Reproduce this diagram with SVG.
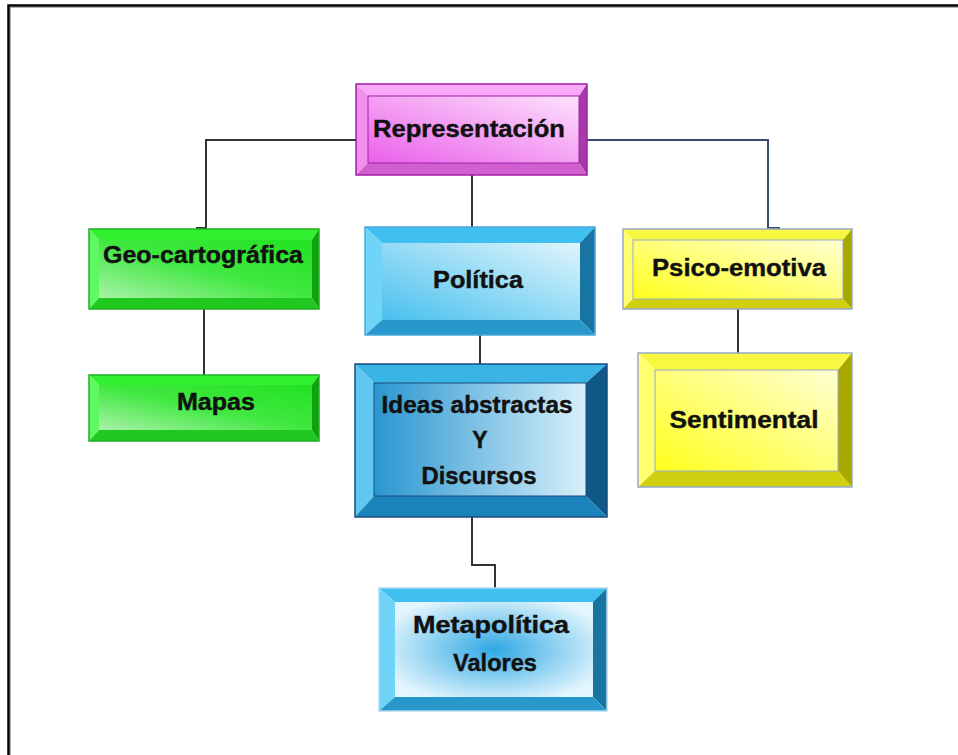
<svg xmlns="http://www.w3.org/2000/svg" width="958" height="755" viewBox="0 0 958 755">
<style>
text{font-family:"Liberation Sans",Arial,sans-serif;font-weight:bold;font-size:23px;fill:#111;stroke:#111;stroke-width:0.4;text-anchor:middle}
.ln{fill:none;stroke:#333;stroke-width:2}
.mt{fill:#f8a8f4}.ml{fill:#f090ec}.mr{fill:#a83aa8}.mb{fill:#d060d0}.mo{fill:none;stroke:#a020a8;stroke-width:1.5}
.gt{fill:#30f030}.gl{fill:#60f860}.gr{fill:#10a010}.gb{fill:#20c820}.go{fill:none;stroke:#20b020;stroke-width:1.5}
.bt{fill:#40c0f0}.bl{fill:#70d4f8}.br{fill:#1874a0}.bb{fill:#2898cc}.bo{fill:none;stroke:#4aa8d8;stroke-width:1.5}
.dt{fill:#3ab4e4}.dl{fill:#60c8f0}.dr{fill:#0f5888}.db{fill:#1c84bc}.do{fill:none;stroke:#1a4c80;stroke-width:1.5}
.yt{fill:#f8f840}.yl{fill:#ffff70}.yr{fill:#a8a800}.yb{fill:#d0d010}.yo{fill:none;stroke:#98aac8;stroke-width:1.5}
</style>
<defs>
<linearGradient id="gm" x1="0" y1="1" x2="1" y2="0"><stop offset="0" stop-color="#ea60ea"/><stop offset="1" stop-color="#fde2fc"/></linearGradient>
<linearGradient id="gg" x1="0" y1="1" x2="1" y2="0"><stop offset="0" stop-color="#a8f2a8"/><stop offset="0.5" stop-color="#40e840"/><stop offset="1" stop-color="#22e222"/></linearGradient>
<linearGradient id="gb" x1="0" y1="1" x2="1" y2="0"><stop offset="0" stop-color="#48c0ee"/><stop offset="1" stop-color="#e0f5fc"/></linearGradient>
<linearGradient id="gd" x1="0" y1="0" x2="1" y2="0"><stop offset="0" stop-color="#2a96d0"/><stop offset="1" stop-color="#d8f0fa"/></linearGradient>
<linearGradient id="gy" x1="0" y1="1" x2="1" y2="0"><stop offset="0" stop-color="#ffff1c"/><stop offset="1" stop-color="#ffffd4"/></linearGradient>
<radialGradient id="gr" cx="0.5" cy="0.5" r="0.6"><stop offset="0" stop-color="#30a8e4"/><stop offset="1" stop-color="#e4f6fd"/></radialGradient>
</defs>
<rect width="958" height="755" fill="#fff"/>
<rect x="8.5" y="5.5" width="960" height="760" fill="none" stroke="#000" stroke-width="2.5"/>
<rect x="10.5" y="7.5" width="960" height="760" fill="none" stroke="#999" stroke-width="0.8"/>

<g id="connectors">
<path class="ln" d="M356,140 H206 V228 H196"/>
<path class="ln" d="M587,140 H768 V228 H780" style="stroke:#3a4a70"/>
<path class="ln" d="M472,175 V227"/>
<path class="ln" d="M204,309 V375"/>
<path class="ln" d="M480,335 V364"/>
<path class="ln" d="M738,309 V353"/>
<path class="ln" d="M472,517 V565 H495 V588"/>
</g>

<g id="representacion">
<rect x="368" y="96" width="211" height="67" fill="url(#gm)"/>
<polygon class="mt" points="356,84 587,84 579,96 368,96"/>
<polygon class="ml" points="356,84 368,96 368,163 356,175"/>
<polygon class="mr" points="587,84 587,175 579,163 579,96"/>
<polygon class="mb" points="356,175 368,163 579,163 587,175"/>
<rect class="mo" x="356" y="84" width="231" height="91"/>
<rect x="368" y="96" width="211" height="67" fill="none" stroke="#a020a8" stroke-width="1"/>
<text x="469" y="137" font-size="25" textLength="192" lengthAdjust="spacingAndGlyphs">Representación</text>
</g>

<g id="geo">
<rect x="99" y="240" width="213" height="58" fill="url(#gg)"/>
<polygon class="gt" points="89,229 319,229 312,240 99,240"/>
<polygon class="gl" points="89,229 99,240 99,298 89,309"/>
<polygon class="gr" points="319,229 319,309 312,298 312,240"/>
<polygon class="gb" points="89,309 99,298 312,298 319,309"/>
<rect class="go" x="89" y="229" width="230" height="80"/>
<text x="203" y="263" textLength="200" lengthAdjust="spacingAndGlyphs">Geo-cartográfica</text>
</g>

<g id="mapas">
<rect x="99" y="385" width="213" height="45" fill="url(#gg)"/>
<polygon class="gt" points="89,375 319,375 312,385 99,385"/>
<polygon class="gl" points="89,375 99,385 99,430 89,441"/>
<polygon class="gr" points="319,375 319,441 312,430 312,385"/>
<polygon class="gb" points="89,441 99,430 312,430 319,441"/>
<rect class="go" x="89" y="375" width="230" height="66"/>
<text x="216" y="410" textLength="78" lengthAdjust="spacingAndGlyphs">Mapas</text>
</g>

<g id="politica">
<rect x="382" y="243" width="198" height="77" fill="url(#gb)"/>
<polygon class="bt" points="365,227 595,227 580,243 382,243"/>
<polygon class="bl" points="365,227 382,243 382,320 365,335"/>
<polygon class="br" points="595,227 595,335 580,320 580,243"/>
<polygon class="bb" points="365,335 382,320 580,320 595,335"/>
<rect class="bo" x="365" y="227" width="230" height="108"/>
<text x="478" y="288" textLength="90" lengthAdjust="spacingAndGlyphs">Política</text>
</g>

<g id="ideas">
<rect x="374" y="383" width="212" height="113" fill="url(#gd)"/>
<polygon class="dt" points="355,364 607,364 586,383 374,383"/>
<polygon class="dl" points="355,364 374,383 374,496 355,517"/>
<polygon class="dr" points="607,364 607,517 586,496 586,383"/>
<polygon class="db" points="355,517 374,496 586,496 607,517"/>
<rect class="do" x="355" y="364" width="252" height="153"/>
<rect x="374" y="383" width="212" height="113" fill="none" stroke="#1a4c80" stroke-width="1"/>
<text x="477" y="413" textLength="191" lengthAdjust="spacingAndGlyphs">Ideas abstractas</text>
<text x="480" y="448">Y</text>
<text x="479" y="484" textLength="115" lengthAdjust="spacingAndGlyphs">Discursos</text>
</g>

<g id="psico">
<rect x="633" y="240" width="210" height="59" fill="url(#gy)"/>
<polygon class="yt" points="623,229 852,229 843,240 633,240"/>
<polygon class="yl" points="623,229 633,240 633,299 623,309"/>
<polygon class="yr" points="852,229 852,309 843,299 843,240"/>
<polygon class="yb" points="623,309 633,299 843,299 852,309"/>
<rect class="yo" x="623" y="229" width="229" height="80"/>
<rect x="633" y="240" width="210" height="59" fill="none" stroke="#98aac8" stroke-width="1"/>
<text x="739" y="276" textLength="174" lengthAdjust="spacingAndGlyphs">Psico-emotiva</text>
</g>

<g id="sentimental">
<rect x="655" y="370" width="183" height="101" fill="url(#gy)"/>
<polygon class="yt" points="638,353 852,353 838,370 655,370"/>
<polygon class="yl" points="638,353 655,370 655,471 638,487"/>
<polygon class="yr" points="852,353 852,487 838,471 838,370"/>
<polygon class="yb" points="638,487 655,471 838,471 852,487"/>
<rect class="yo" x="638" y="353" width="214" height="134"/>
<rect x="655" y="370" width="183" height="101" fill="none" stroke="#98aac8" stroke-width="1"/>
<text x="744" y="428" textLength="149" lengthAdjust="spacingAndGlyphs">Sentimental</text>
</g>

<g id="metapolitica">
<rect x="395" y="602" width="198" height="95" fill="url(#gr)"/>
<polygon class="bt" points="379,588 607,588 593,602 395,602"/>
<polygon class="bl" points="379,588 395,602 395,697 379,711"/>
<polygon class="br" points="607,588 607,711 593,697 593,602"/>
<polygon class="bb" points="379,711 395,697 593,697 607,711"/>
<rect class="bo" x="379" y="588" width="228" height="123" style="stroke:#b0d8f0"/>
<text x="491" y="633" textLength="156" lengthAdjust="spacingAndGlyphs">Metapolítica</text>
<text x="495" y="671" textLength="84" lengthAdjust="spacingAndGlyphs">Valores</text>
</g>
</svg>
